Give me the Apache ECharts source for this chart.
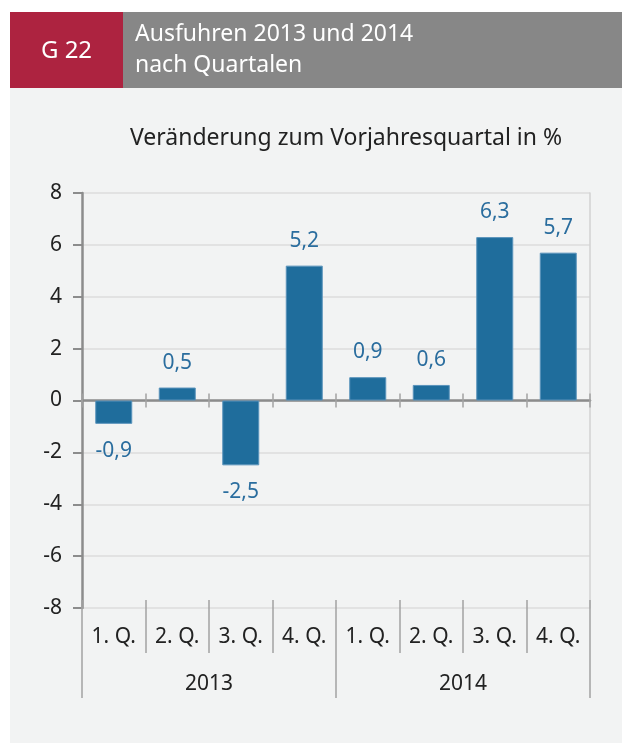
<!DOCTYPE html>
<html>
<head>
<meta charset="utf-8">
<script src="https://cdn.jsdelivr.net/npm/echarts@6/dist/echarts.min.js"></script>
<style>
  html, body { margin: 0; padding: 0; background: #fff; }
  #chart { width: 622px; height: 743px; }
</style>
</head>
<body>
<div id="chart"></div>
<script>
  // Daten
  const quarters = ['1. Q.', '2. Q.', '3. Q.', '4. Q.', '1. Q.', '2. Q.', '3. Q.', '4. Q.'];
  const years = ['2013', '2014'];
  const values = [-0.9, 0.5, -2.5, 5.2, 0.9, 0.6, 6.3, 5.7];
  const yMin = -8;
  const yMax = 8;
  const yStep = 2;

  const font = '"Noto Sans", "Open Sans", sans-serif';
  const barColor = '#1f6d9c';
  const axisGrey = '#8c8c8c';
  const tickGrey = '#a3a3a3';

  const myChart = echarts.init(document.getElementById('chart'));

  const option = {
    backgroundColor: '#fff',
    animation: false,
    textStyle: { fontFamily: font },
    graphic: {
      elements: [
        // Hintergrundflaeche
        { type: 'rect', z: -10, shape: { x: 10, y: 88, width: 612, height: 655 }, style: { fill: '#f2f3f3' } },
        // Kopfzeile
        { type: 'rect', z: -10, shape: { x: 10, y: 12, width: 612, height: 76 }, style: { fill: '#878787' } },
        { type: 'rect', z: -9, shape: { x: 10, y: 12, width: 113, height: 76 }, style: { fill: '#ad2340' } },
        {
          type: 'text', z: 10, x: 66.5, y: 50.7,
          style: { text: 'G 22', fill: '#fff', font: '24px ' + font, align: 'center', verticalAlign: 'middle' }
        },
        {
          type: 'text', z: 10, x: 135, y: 34.1,
          style: { text: 'Ausfuhren 2013 und 2014', fill: '#fff', font: '23px ' + font, verticalAlign: 'middle' }
        },
        {
          type: 'text', z: 10, x: 135, y: 65.1,
          style: { text: 'nach Quartalen', fill: '#fff', font: '23px ' + font, verticalAlign: 'middle' }
        },
        {
          type: 'text', z: 10, x: 130, y: 138.1,
          style: { text: 'Veränderung zum Vorjahresquartal in %', fill: '#222', font: '23px ' + font, verticalAlign: 'middle' }
        }
      ]
    },
    grid: {
      left: 82,
      top: 193,
      width: 508,
      height: 415,
      containLabel: false,
      outerBoundsMode: 'none'
    },
    xAxis: [
      {
        // Nulllinie mit Strichen nach unten
        type: 'category',
        data: quarters,
        axisLine: { show: true, onZero: true, onZeroAxisIndex: 0, lineStyle: { color: axisGrey, width: 2.5 } },
        axisTick: { show: true, interval: 0, length: 7, lineStyle: { color: tickGrey, width: 1.5 } },
        axisLabel: { show: false },
        splitLine: { show: false }
      },
      {
        // Striche nach oben
        type: 'category',
        position: 'bottom',
        data: quarters,
        axisLine: { show: false, onZero: true, onZeroAxisIndex: 0 },
        axisTick: { show: true, inside: true, interval: 0, length: 7, lineStyle: { color: tickGrey, width: 1.5 } },
        axisLabel: { show: false },
        splitLine: { show: false }
      },
      {
        // Quartale
        type: 'category',
        position: 'bottom',
        offset: -8,
        data: quarters,
        axisLine: { show: false, onZero: false },
        axisTick: { show: true, interval: 0, length: 53, lineStyle: { color: tickGrey, width: 1.5 } },
        axisLabel: { show: true, interval: 0, margin: 26, fontSize: 21, lineHeight: 22, color: '#222', fontFamily: font },
        splitLine: { show: false }
      },
      {
        // Jahre
        type: 'category',
        position: 'bottom',
        offset: -8,
        data: years,
        axisLine: { show: false, onZero: false },
        axisTick: { show: true, interval: 0, length: 98, lineStyle: { color: tickGrey, width: 1.5 } },
        axisLabel: { show: true, interval: 0, margin: 73, fontSize: 21, lineHeight: 22, color: '#222', fontFamily: font },
        splitLine: { show: false }
      }
    ],
    yAxis: [
      {
        type: 'value',
        position: 'left',
        min: yMin,
        max: yMax,
        interval: yStep,
        axisLine: { show: true, onZero: false, lineStyle: { color: axisGrey, width: 2.5 } },
        axisTick: { show: true, length: 9, lineStyle: { color: axisGrey, width: 2 } },
        axisLabel: { margin: 20, fontSize: 21, color: '#222', fontFamily: font },
        splitLine: { show: true, lineStyle: { color: '#dcdcdc', width: 1.5 } }
      },
      {
        // rechter Rahmen
        type: 'value',
        position: 'right',
        min: yMin,
        max: yMax,
        interval: yStep,
        axisLine: { show: true, onZero: false, lineStyle: { color: '#d2d2d2', width: 1.5 } },
        axisTick: { show: false },
        axisLabel: { show: false },
        splitLine: { show: false }
      }
    ],
    series: [
      {
        type: 'bar',
        xAxisIndex: 0,
        yAxisIndex: 0,
        barWidth: 37,
        itemStyle: { color: barColor, borderColor: '#5a93bb', borderWidth: 1 },
        label: {
          show: true,
          fontSize: 21,
          lineHeight: 22,
          color: '#2a6d9e',
          fontFamily: font,
          formatter: (p) => p.value.toFixed(1).replace('.', ',')
        },
        data: values.map((v) => ({
          value: v,
          label: v < 0 ? { position: 'bottom', distance: 16 } : { position: 'top', distance: 14 }
        }))
      }
    ]
  };

  myChart.setOption(option);
</script>
</body>
</html>
